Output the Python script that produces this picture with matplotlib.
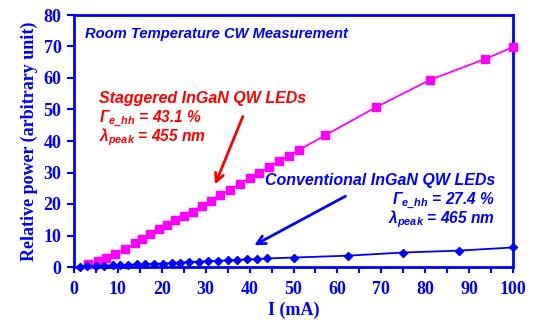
import matplotlib
matplotlib.use("Agg")
import matplotlib.pyplot as plt

# ---- data ----
staggered_x = [3.3, 5.5, 7.4, 9.3, 11.6, 13.9, 15.4, 17.3, 19.4, 21.1, 23.0, 25.1, 27.0,
               29.1, 31.1, 33.3, 35.5, 37.8, 40.1, 42.2, 44.4, 46.7, 49.0, 51.2,
               57.2, 68.9, 81.1, 93.6, 100.0]
staggered_y = [1.0, 2.0, 2.8, 4.0, 5.6, 7.5, 9.0, 10.5, 12.0, 13.3, 14.9, 16.2, 17.6,
               19.4, 21.0, 22.9, 24.4, 26.3, 28.2, 29.9, 31.8, 33.7, 35.3, 37.1,
               41.8, 50.8, 59.4, 66.0, 69.8]

conventional_x = [1.4, 3.0, 4.9, 6.9, 8.8, 10.5, 12.4, 14.3, 16.2, 18.3, 20.3, 22.3, 24.2,
                  26.3, 28.5, 30.6, 32.9, 35.0, 37.2, 39.5, 41.7, 43.9,
                  50.0, 62.5, 75.0, 87.7, 100.0]
conventional_y = [0.1, 0.2, 0.3, 0.4, 0.5, 0.6, 0.7, 0.8, 0.9, 1.0, 1.1, 1.3, 1.4,
                  1.6, 1.7, 1.9, 2.0, 2.1, 2.2, 2.4, 2.5, 2.7,
                  3.0, 3.6, 4.6, 5.2, 6.2]

x_ticks = [0, 10, 20, 30, 40, 50, 60, 70, 80, 90, 100]
y_ticks = [0, 10, 20, 30, 40, 50, 60, 70, 80]

BLUE = "#0000FF"
RED = "#FF0000"
MAG = "#FF00FF"

plt.rcParams["mathtext.fontset"] = "custom"
plt.rcParams["mathtext.rm"] = "Liberation Sans:bold:italic"
plt.rcParams["mathtext.it"] = "Liberation Sans:bold:italic"
plt.rcParams["mathtext.bf"] = "Liberation Sans:bold:italic"

fig = plt.figure(figsize=(5.36, 3.24), dpi=100)
ax = fig.add_axes([74/536, 1-267/324, (513-74)/536, (267-15)/324])

ax.plot(staggered_x, staggered_y, color=MAG, lw=1.3, marker="s", ms=5.5,
        mfc=MAG, mec=MAG, clip_on=False, zorder=3)
ax.plot(conventional_x, conventional_y, color=BLUE, lw=1.3, marker="D", ms=4.3,
        mfc=BLUE, mec=BLUE, clip_on=False, zorder=3)

ax.set_xlim(0, 100)
ax.set_ylim(0, 80)
ax.set_xticks(x_ticks)
ax.set_xticks([v + 5 for v in x_ticks[:-1]], minor=True)
ax.set_yticks(y_ticks)

for s in ax.spines.values():
    s.set_color(BLUE)
    s.set_linewidth(2.0)

tickfont = dict(family="Liberation Serif", weight="bold", size=13)
ax.set_xticklabels([str(v) for v in x_ticks], fontdict=tickfont, color=BLUE)
ax.set_yticklabels([str(v) for v in y_ticks], fontdict=tickfont, color=BLUE)
ax.tick_params(axis="x", which="both", direction="out", length=4, width=1.5,
               color=BLUE, pad=6)
ax.tick_params(axis="y", which="both", direction="out", length=5, width=1.5,
               color=BLUE, pad=4)

ax.set_xlabel("I (mA)", fontdict=tickfont, color=BLUE, labelpad=3)
ax.set_ylabel("Relative power (arbitrary unit)", fontdict=tickfont, color=BLUE,
              labelpad=4)

tf_small = dict(family="Liberation Sans", weight="bold", style="italic", size=10.6)
tf = dict(family="Liberation Sans", weight="bold", style="italic", size=11.5)
tf_sub = dict(family="Liberation Sans", weight="bold", style="italic", size=11.2)
ax.text(2.5, 72.6, "Room Temperature CW Measurement", color=BLUE, va="baseline",
        ha="left", **tf_small)
ax.text(5.7, 52.1, "Staggered InGaN QW LEDs", color=RED, va="baseline", ha="left", **tf)
ax.text(5.7, 45.7, r"$\Gamma_{e\_hh}$ = 43.1 %", color=RED, va="baseline", ha="left", **tf_sub)
ax.text(5.7, 39.8, r"$\lambda_{peak}$ = 455 nm", color=RED, va="baseline", ha="left", **tf_sub)

ax.text(95.9, 26.0, "Conventional InGaN QW LEDs", color=BLUE, va="baseline", ha="right", **tf)
ax.text(95.9, 19.5, r"$\Gamma_{e\_hh}$ = 27.4 %", color=BLUE, va="baseline", ha="right", **tf_sub)
ax.text(95.9, 13.9, r"$\lambda_{peak}$ = 465 nm", color=BLUE, va="baseline", ha="right", **tf_sub)

ax.annotate("", xy=(31.9, 25.4), xytext=(38.7, 48.6),
            arrowprops=dict(arrowstyle="->,head_length=0.6,head_width=0.3",
                            color=RED, lw=2))
ax.annotate("", xy=(40.5, 6.5), xytext=(62.4, 22.9),
            arrowprops=dict(arrowstyle="->,head_length=0.6,head_width=0.3",
                            color=BLUE, lw=2))

fig.savefig("out.png", dpi=100)
